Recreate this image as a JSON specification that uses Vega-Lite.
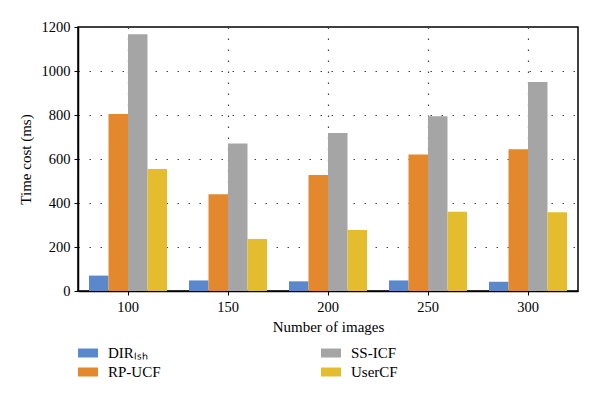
{
  "$schema": "https://vega.github.io/schema/vega-lite/v6.json",
  "width": 500,
  "height": 264,
  "autosize": "none",
  "padding": {"left": 78, "top": 27, "right": 22, "bottom": 107},
  "background": "white",
  "data": {"values": [
    {"n": "100", "method": "DIR_LSH", "time": 70},
    {"n": "100", "method": "RP-UCF", "time": 805},
    {"n": "100", "method": "SS-ICF", "time": 1167},
    {"n": "100", "method": "UserCF", "time": 555},
    {"n": "150", "method": "DIR_LSH", "time": 48},
    {"n": "150", "method": "RP-UCF", "time": 440},
    {"n": "150", "method": "SS-ICF", "time": 671},
    {"n": "150", "method": "UserCF", "time": 236},
    {"n": "200", "method": "DIR_LSH", "time": 44},
    {"n": "200", "method": "RP-UCF", "time": 527},
    {"n": "200", "method": "SS-ICF", "time": 718},
    {"n": "200", "method": "UserCF", "time": 277},
    {"n": "250", "method": "DIR_LSH", "time": 48},
    {"n": "250", "method": "RP-UCF", "time": 621},
    {"n": "250", "method": "SS-ICF", "time": 794},
    {"n": "250", "method": "UserCF", "time": 360},
    {"n": "300", "method": "DIR_LSH", "time": 42},
    {"n": "300", "method": "RP-UCF", "time": 644},
    {"n": "300", "method": "SS-ICF", "time": 950},
    {"n": "300", "method": "UserCF", "time": 358}
  ]},
  "config": {
    "font": "Liberation Serif",
    "view": {"stroke": "black", "strokeWidth": 1.5},
    "axis": {
      "labelFont": "Liberation Serif",
      "titleFont": "Liberation Serif",
      "labelFontSize": 14.5,
      "titleFontSize": 15,
      "titleFontWeight": "normal",
      "labelColor": "black",
      "titleColor": "black",
      "domainColor": "black",
      "tickColor": "black",
      "gridColor": "#444",
      "gridDash": [1.5, 9.5],
      "gridWidth": 1.2,
      "gridOpacity": 1
    },
    "legend": {
      "labelFont": "Liberation Serif",
      "labelFontSize": 15,
      "labelColor": "black"
    }
  },
  "mark": {"type": "bar"},
  "encoding": {
    "x": {
      "field": "n",
      "type": "ordinal",
      "title": "Number of images",
      "scale": {"paddingInner": 0.22, "paddingOuter": 0.11},
      "axis": {"labelAngle": 0, "grid": true, "bandPosition": 0.5, "tickSize": 4, "labelPadding": 5, "titlePadding": 6, "domainWidth": 1.5}
    },
    "xOffset": {
      "field": "method",
      "type": "nominal",
      "scale": {"domain": ["DIR_LSH", "RP-UCF", "SS-ICF", "UserCF"], "paddingInner": 0}
    },
    "y": {
      "field": "time",
      "type": "quantitative",
      "title": "Time cost (ms)",
      "scale": {"domain": [0, 1200]},
      "axis": {"values": [0, 200, 400, 600, 800, 1000, 1200], "format": "d", "grid": true, "tickSize": 4, "labelPadding": 4, "titlePadding": 8, "domainWidth": 1.5}
    },
    "color": {
      "field": "method",
      "type": "nominal",
      "scale": {
        "domain": ["DIR_LSH", "SS-ICF", "RP-UCF", "UserCF"],
        "range": ["#5B88CB", "#A5A5A5", "#E3882D", "#E4BD2F"]
      },
      "legend": {
        "title": null,
        "orient": "bottom",
        "columns": 2,
        "symbolType": "M-1,-0.45H1V0.45H-1Z",
        "symbolSize": 400,
        "symbolStrokeWidth": 0,
        "labelOffset": 10,
        "columnPadding": 160,
        "rowPadding": 1,
        "offset": 8,
        "padding": 0,
        "labelExpr": "datum.label == 'DIR_LSH' ? 'DIRₗₛₕ' : datum.label"
      }
    }
  }
}
